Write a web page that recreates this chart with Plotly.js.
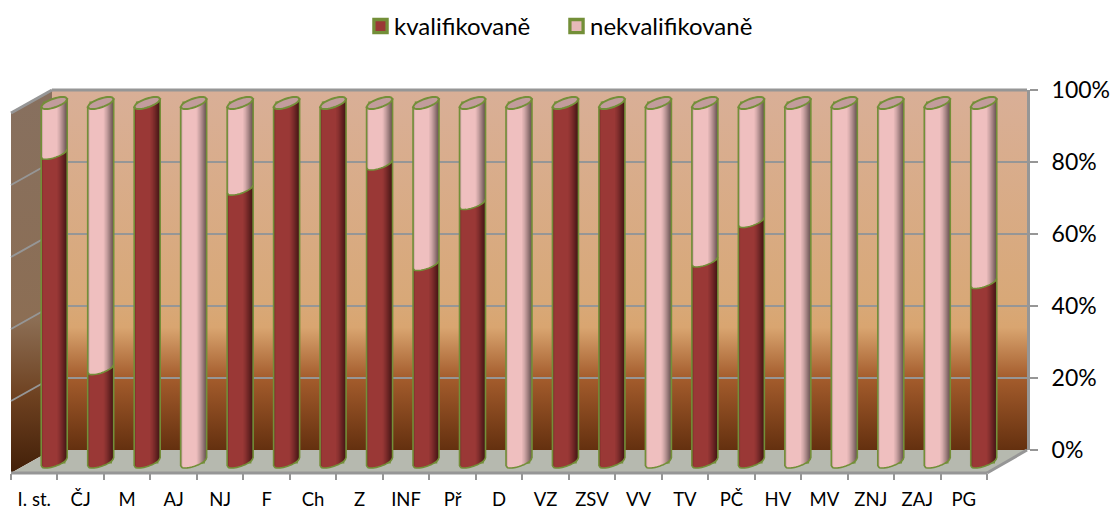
<!DOCTYPE html>
<html><head><meta charset="utf-8">
<script src="https://cdn.plot.ly/plotly-3.0.1.min.js"></script>
<style>html,body{margin:0;padding:0;background:#fff}#c{width:1112px;height:509px}</style>
</head><body><div id="c"></div>
<script>
var categories = ["I. st.","ČJ","M","AJ","NJ","F","Ch","Z","INF","Př","D","VZ","ZSV","VV","TV","PČ","HV","MV","ZNJ","ZAJ","PG"];
var kvalifikovane   = [86,26,100,0,76,100,100,83,55,72,0,100,100,0,56,67,0,0,0,0,50];
var nekvalifikovane = [14,74,0,100,24,0,0,17,45,28,100,0,0,100,44,33,100,100,100,100,50];
var seriesNames = ["kvalifikovaně","nekvalifikovaně"];
var yTicks = [0,20,40,60,80,100];

var W=1112,H=509;
var RED="#9A3836",PINK="#EFBFBF",GREEN="#738F38",CAP="#C29C9C",GRAY="#969696";
var frontL=11,frontR=987,frontY=473,backL=52,backR=1027,backTop=90,backBot=450;
var catW=(frontR-frontL)/21;
var xExtra=0.6;
var barShift=0.43,barHalf=13,barFill=0.42;
var y0px=462,y100px=103,pxPerPct=(y0px-y100px)/100,yPad=5;
var tiltX=barHalf,tiltY=4,minorY=4.5;

function fx(p){return p/W} function fy(p){return 1-p/H}

var svg='<svg xmlns="http://www.w3.org/2000/svg" width="'+W+'" height="'+H+'">'+
'<defs><linearGradient id="a" x1="0" y1="0" x2="0" y2="1">'+
'<stop offset="0" stop-color="#D9AF97"/><stop offset="0.6" stop-color="#D8A877"/><stop offset="0.66" stop-color="#D9A570"/>'+
'<stop offset="0.8" stop-color="#A45C2C"/><stop offset="1" stop-color="#64300F"/></linearGradient>'+
'<linearGradient id="b" x1="0" y1="0" x2="0" y2="1">'+
'<stop offset="0" stop-color="#87705F"/><stop offset="0.6" stop-color="#8C6E54"/>'+
'<stop offset="0.8" stop-color="#6E4120"/><stop offset="1" stop-color="#421F08"/></linearGradient></defs>'+
'<polygon points="'+backL+','+backTop+' '+backR+','+backTop+' '+backR+','+backBot+' '+backL+','+backBot+'" fill="url(#a)"/>'+
'<polygon points="'+frontL+','+(frontY-360)+' '+backL+','+backTop+' '+backL+','+backBot+' '+frontL+','+frontY+'" fill="url(#b)"/>'+
'<polygon points="'+frontL+','+frontY+' '+frontR+','+frontY+' '+backR+','+backBot+' '+backL+','+backBot+'" fill="#B6B9AF"/></svg>';

function frontOff(c){
  var s=Math.sqrt(Math.max(0,1-c*c));
  return {dx:tiltX*c, dy:-tiltY*c+minorY*s};
}
function backOff(c){
  var s=Math.sqrt(Math.max(0,1-c*c));
  return {dx:tiltX*c, dy:-tiltY*c-minorY*s};
}
function pt(i,v,o){return (i+barShift+o.dx/catW).toFixed(4)+','+(v-o.dy/pxPerPct).toFixed(3)}
function sectionPath(i,vTop,vBot,u0,u1){
  var n=12,p=[],k,c;
  for(k=0;k<=n;k++){c=(u0+(u1-u0)*k/n)*2-1;p.push(pt(i,vTop,frontOff(c)))}
  for(k=n;k>=0;k--){c=(u0+(u1-u0)*k/n)*2-1;p.push(pt(i,vBot,frontOff(c)))}
  return 'M'+p.join('L')+'Z';
}
function capPath(i,v){
  var n=16,p=[],k;
  for(k=0;k<=n;k++)p.push(pt(i,v,frontOff(-1+2*k/n)));
  for(k=n-1;k>0;k--)p.push(pt(i,v,backOff(-1+2*k/n)));
  return 'M'+p.join('L')+'Z';
}
function arcPath(i,v){
  var n=16,p=[],k;
  for(k=0;k<=n;k++)p.push(pt(i,v,frontOff(-1+2*k/n)));
  return 'M'+p.join('L');
}
function s(path,fill,line,w){
  return {type:'path',xref:'x',yref:'y2',path:path,fillcolor:fill||'rgba(0,0,0,0)',layer:'above',
          line:{color:line||'rgba(0,0,0,0)',width:line?(w||2):0}};
}
var shades=[[0.62,1,.05],[0.67,1,.06],[0.72,1,.07],[0.76,1,.07],[0.8,1,.08],[0.84,1,.09],[0.88,1,.1],[0.92,1,.11],[0.96,1,.13],
            [0,0.03,.2],[0,0.07,.1]];
var shapes=[];
yTicks.forEach(function(v){
  if(v===0)return;
  var yb=backBot-v*(backBot-backTop)/100;
  shapes.push({type:'line',xref:'paper',yref:'paper',x0:fx(frontL),y0:fy(yb+23),x1:fx(backL),y1:fy(yb),
    layer:'below',line:{color:GRAY,width:v===100?3:2}});
});
shapes.push({type:'line',xref:'paper',yref:'paper',x0:fx(backL),y0:fy(backTop),x1:fx(backR),y1:fy(backTop),layer:'below',line:{color:GRAY,width:3}});
shapes.push({type:'line',xref:'paper',yref:'paper',x0:fx(frontL),y0:fy(frontY),x1:fx(frontR),y1:fy(frontY),layer:'below',line:{color:GRAY,width:3}});
shapes.push({type:'line',xref:'paper',yref:'paper',x0:fx(frontR),y0:fy(frontY),x1:fx(backR),y1:fy(backBot),layer:'below',line:{color:GRAY,width:3}});

categories.forEach(function(c,i){
  var k=kvalifikovane[i],n=nekvalifikovane[i],t=k+n;
  if(k>0)shapes.push(s(sectionPath(i,k,0,0,1),RED));
  if(n>0)shapes.push(s(sectionPath(i,t,k,0,1),PINK));
  shades.forEach(function(d){shapes.push(s(sectionPath(i,t,0,d[0],d[1]),'rgba(0,0,0,'+d[2]+')'))});
  var l=frontOff(-1),r=frontOff(1);
  shapes.push(s('M'+pt(i,t,l)+'L'+pt(i,0,l),null,GREEN,1.6));
  shapes.push(s('M'+pt(i,t,r)+'L'+pt(i,0,r),null,GREEN,1.6));
  shapes.push(s(arcPath(i,0),null,GREEN,1.6));
  if(k>0&&n>0)shapes.push(s(arcPath(i,k),null,GREEN,1.6));
  shapes.push(s(capPath(i,t),CAP,GREEN,2));
});

var bar={type:'bar',x:categories,xaxis:'x',yaxis:'y2',width:barFill,offset:barShift-barFill/2,hoverinfo:'x+y+name'};
var traces=[
 Object.assign({},bar,{name:seriesNames[0],y:kvalifikovane,marker:{color:RED,line:{color:GREEN,width:3}}}),
 Object.assign({},bar,{name:seriesNames[1],y:nekvalifikovane,base:kvalifikovane,marker:{color:"#E6B9B8",line:{color:GREEN,width:3}}}),
 {type:'scatter',mode:'none',x:categories,y:nekvalifikovane,xaxis:'x2',yaxis:'y',showlegend:false,hoverinfo:'skip'}
];

var layout={
 width:W,height:H,margin:{l:0,r:0,t:0,b:0},paper_bgcolor:'#fff',plot_bgcolor:'rgba(0,0,0,0)',
 barmode:'overlay',showlegend:true,
 font:{family:'Lato, "Open Sans", sans-serif',color:'#000'},
 legend:{orientation:'h',x:354/W,xanchor:'left',y:1-4/H,yanchor:'top',font:{size:24,color:'#000'},bgcolor:'rgba(0,0,0,0)',traceorder:'normal',entrywidthmode:'pixels',entrywidth:151},
 images:[{source:'data:image/svg+xml;charset=utf-8,'+encodeURIComponent(svg),xref:'paper',yref:'paper',x:0,y:1,sizex:1,sizey:1,sizing:'stretch',xanchor:'left',yanchor:'top',layer:'below'}],
 xaxis:{type:'category',categoryorder:'array',categoryarray:categories,
   range:[-0.5,20.5+xExtra],domain:[fx(frontL),fx(frontR+xExtra*catW)],anchor:'free',position:fy(frontY),
   tickson:'boundaries',ticks:'outside',ticklen:6,tickwidth:2,tickcolor:GRAY,showline:false,showgrid:false,zeroline:false,
   tickfont:{size:18.5,color:'#000'},tickangle:0,ticklabelstandoff:13},
 yaxis2:{range:[-yPad,100+yPad],domain:[fy(y0px+yPad*pxPerPct),fy(y100px-yPad*pxPerPct)],anchor:'x',visible:false,fixedrange:true},
 xaxis2:{type:'category',categoryorder:'array',categoryarray:categories,domain:[fx(backL),fx(backR)],anchor:'y',visible:false,fixedrange:true},
 yaxis:{range:[0,100],domain:[fy(backBot),fy(backTop)],anchor:'x2',side:'right',
   tickmode:'array',tickvals:yTicks,ticktext:yTicks.map(function(v){return v+'%'}),
   ticks:'outside',ticklen:8,tickwidth:2,tickcolor:GRAY,showline:true,linecolor:GRAY,linewidth:3,
   showgrid:true,gridcolor:GRAY,gridwidth:2,zeroline:true,zerolinecolor:'rgba(0,0,0,0)',tickfont:{size:23,color:'#000'},ticklabelstandoff:9},
 shapes:shapes
};
Plotly.newPlot('c',traces,layout,{displayModeBar:false,staticPlot:true}).then(function(){
  document.querySelectorAll('.legend .legendsymbols').forEach(function(g){
    g.setAttribute('transform','translate(4.5,0) scale(1.1)');
  });
  document.querySelectorAll('.legend, .legend .scrollbox').forEach(function(g){
    g.removeAttribute('clip-path');
    g.style.clipPath='none';
  });
});
</script></body></html>
